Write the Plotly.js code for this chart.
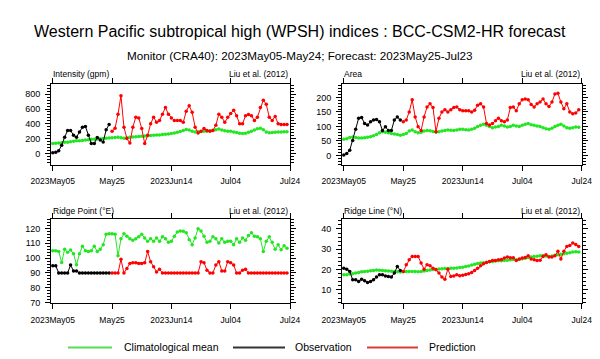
<!DOCTYPE html>
<html>
<head>
<meta charset="utf-8">
<script src="https://cdn.plot.ly/plotly-3.0.1.min.js"></script>
<style>html,body{margin:0;padding:0;background:#fff;}#chart{width:600px;height:359px;}</style>
</head>
<body>
<div id="chart"></div>
<script>
// ---- data ----
var xTickLabels = ["2023May05", "May25", "2023Jun14", "Jul04", "Jul24"];
var xTickDays = [0, 20, 40, 60, 80];

// Intensity (gpm)
var climIntensity = [135,138,142,145,150,152,158,165,170,172,
  175,180,185,190,192,195,198,200,205,208,
  212,215,218,210,205,212,218,222,225,228,
  232,235,240,242,245,248,250,255,258,262,
  268,275,285,295,310,322,315,298,290,292,
  295,298,300,305,312,320,330,318,305,300,
  298,290,282,272,268,272,285,300,318,332,
  340,320,290,278,282,285,288,290,292,292];
var obsIntensity = [10,15,35,110,220,310,310,245,220,290,355,365,245,135,135,215,180,155,320,390];
var predIntensity = [300,340,530,780,355,200,140,355,490,480,
  335,135,245,400,490,420,445,530,620,530,
  480,445,445,445,420,570,645,555,355,275,
  300,335,310,300,310,380,530,490,420,490,
  540,585,510,400,400,510,525,510,445,490,
  620,720,665,490,445,500,400,390,390,390];

// Area
var climArea = [56,58,62,64,62,60,60,61,63,65,
  68,72,78,82,80,78,76,74,72,70,
  72,76,84,88,82,78,80,84,86,85,
  83,80,82,84,86,88,87,86,88,90,
  90,89,88,90,94,100,104,108,104,100,
  96,98,100,104,102,98,100,104,102,100,
  104,108,110,106,104,102,100,96,92,90,
  94,100,104,108,102,96,94,96,98,97];
var obsArea = [2,7,18,52,90,128,131,110,105,116,122,124,116,86,99,86,86,122,133,122];
var predArea = [116,122,150,192,133,99,86,133,167,178,
  165,82,128,150,158,150,158,165,167,158,
  154,154,154,150,156,173,178,167,110,105,
  110,120,128,120,116,122,165,167,154,178,
  192,195,192,176,167,178,184,195,178,169,
  184,212,214,184,161,178,150,144,146,158];

// Ridge Point (°E)
var climRidgePoint = [105,105,104.5,97,106,104,105.5,103,95.5,103,
  108,105,104.5,105,108,104.5,106,109,116,116.3,
  116.3,116,101.5,113,116.3,114.7,113,112,113,114.3,
  116,113.6,111.3,113,111.3,113.6,111.3,114.3,113,110.6,
  111.3,114.7,117.5,118.2,118,117,112.4,109,113.6,119.8,
  118.2,114.7,110.6,111.3,114.3,113,110.2,113,110.6,111.3,
  111.3,109,113,110.6,113.6,112,115.2,117,114.7,114.3,
  113,104.4,111.3,114.3,110.6,106,109,105.6,108.3,106.7];
var obsRidgePoint = [94.8,94.8,90,90,90,90,95.3,91.4,91.4,90,90,90,90,90,90,90,90,90,90,90];
var predRidgePoint = [90,90,90,99.2,90,93,96.4,96.9,96.9,96.4,
  96.4,96.9,104.4,97.6,94.2,90.7,92.5,90,90,90,
  90,90,90,90,90,90,90,90,90,90,
  97.6,96.9,91.9,90,90,95.3,97.6,91.4,91.4,97.6,
  96.9,95.3,90,90,91.9,92.5,90,90,90,90,
  90,90,90,90,90,90,90,90,90,90];

// Ridge Line (°N)
var climRidgeLine = [17.4,17.5,17.8,18.0,18.3,18.6,18.9,19.0,19.2,19.4,
  19.6,19.8,19.7,19.5,19.4,19.3,19.2,19.0,18.9,18.8,
  18.9,19.0,19.0,19.1,19.0,18.9,19.1,19.3,19.5,19.8,
  20.0,20.2,20.3,20.4,20.5,20.5,20.6,20.7,20.8,21.0,
  21.2,21.5,21.8,22.2,22.6,23.0,23.2,23.4,23.6,23.8,
  24.0,24.2,24.3,24.4,24.5,24.6,24.8,25.0,24.8,25.0,
  25.3,25.6,25.9,26.2,26.4,26.6,26.8,26.9,26.7,26.5,
  26.7,27.0,27.3,27.6,27.8,28.0,28.3,28.6,28.8,28.6];
var obsRidgeLine = [20.7,20.2,19.1,15,15,14.1,15.3,14.5,13.6,14.1,15,16.3,17.4,17.4,16.9,16.6,16.3,18.3,21.5,19.6];
var predRidgeLine = [19.1,22.4,24.8,26.5,26.5,26.5,23.2,20.2,22.4,21.9,
  20.7,19.9,18.3,16.3,15.3,20.2,16.6,16.9,17.4,17.0,
  17.2,17.6,17.9,18.6,19.6,20.7,21.9,22.9,23.5,24,
  24.5,24.5,24.8,25.0,25.7,26.2,25.8,25.8,24.5,25.2,
  25.7,26.0,26.8,25.2,24.8,24.5,24.6,26.5,27.3,26.2,
  26.2,26.8,29,25.2,29,31.4,31.8,33.1,32.3,31.4];

var panelTitles = ["Intensity (gpm)", "Area", "Ridge Point (°E)", "Ridge Line (°N)"];
var sourceLabel = "Liu et al. (2012)";
var seriesNames = ["Climatological mean", "Observation", "Prediction"];

// ---- styling ----
var FONT = "Liberation Sans, Arial, Helvetica, sans-serif";
var cGreen = "#22e622", cBlack = "#000000", cRed = "#ff0000";
var W = 600, H = 359;
function px(x) { return x / W; }
function py(y) { return 1 - y / H; }

var panels = [
  {clim: climIntensity, obs: obsIntensity, pred: predIntensity, range: [-150, 945], dtick: 200, minor: 40, tick0: 0},
  {clim: climArea, obs: obsArea, pred: predArea, range: [-31, 248], dtick: 50, minor: 10, tick0: 0},
  {clim: climRidgePoint, obs: obsRidgePoint, pred: predRidgePoint, range: [69.6, 126.3], dtick: 10, minor: 2, tick0: 70},
  {clim: climRidgeLine, obs: obsRidgeLine, pred: predRidgeLine, range: [3.4, 44.9], dtick: 10, minor: 2, tick0: 10}
];
var xDomains = [[px(51), px(290)], [px(342), px(581.7)]];
var yDomains = [[py(164.5), py(83.5)], [py(303.3), py(219)]];

var data = [];
var layout = {
  width: W, height: H,
  margin: {l: 0, r: 0, t: 0, b: 0},
  paper_bgcolor: "#fff", plot_bgcolor: "#fff",
  showlegend: false,
  font: {family: FONT, color: "#000"},
  annotations: [], shapes: []
};

panels.forEach(function (p, k) {
  var col = k % 2, row = Math.floor(k / 2);
  var sfx = k === 0 ? "" : String(k + 1);
  var xa = "x" + sfx, ya = "y" + sfx;
  var xc = p.clim.map(function (_, i) { return i; });
  var xo = p.obs.map(function (_, i) { return i; });
  var xp = p.pred.map(function (_, i) { return i + p.obs.length; });
  var common = {type: "scatter", mode: "lines+markers", xaxis: xa, yaxis: ya, hoverinfo: "skip"};
  data.push(Object.assign({}, common, {x: xc, y: p.clim, name: seriesNames[0], line: {color: cGreen, width: 1}, marker: {color: cGreen, size: 3.5}}));
  data.push(Object.assign({}, common, {x: xo, y: p.obs, name: seriesNames[1], line: {color: cBlack, width: 1}, marker: {color: cBlack, size: 3.5}}));
  data.push(Object.assign({}, common, {x: xp, y: p.pred, name: seriesNames[2], line: {color: cRed, width: 1}, marker: {color: cRed, size: 3.5}}));

  layout["xaxis" + sfx] = {
    domain: xDomains[col], anchor: ya, range: [-0.6, 80],
    tickmode: "array", tickvals: xTickDays, ticktext: xTickLabels,
    ticks: "outside", ticklen: 5, tickwidth: 1, tickcolor: "#000",
    showline: true, linecolor: "#000", linewidth: 1, mirror: "allticks",
    showgrid: false, zeroline: false, ticklabelstandoff: 3,
    tickfont: {family: FONT, size: 8.5, color: "#000"}
  };
  layout["yaxis" + sfx] = {
    domain: yDomains[row], anchor: xa, range: p.range,
    tickmode: "linear", tick0: p.tick0, dtick: p.dtick,
    ticks: "outside", ticklen: 5, tickwidth: 1, tickcolor: "#000",
    minor: {ticks: "outside", ticklen: 3, tickwidth: 1, tickcolor: "#000", dtick: p.minor, tick0: p.tick0, showgrid: false},
    showline: true, linecolor: "#000", linewidth: 1, mirror: "allticks",
    showgrid: false, zeroline: false, ticklabelstandoff: 3,
    tickfont: {family: FONT, size: 9, color: "#000"}
  };
  var titleY = row === 0 ? py(74.5) : py(210.5);
  layout.annotations.push({xref: "paper", yref: "paper", x: xDomains[col][0], y: titleY, xanchor: "left", yanchor: "middle",
    text: panelTitles[k], showarrow: false, font: {family: FONT, size: 8.5, color: "#000"}});
  layout.annotations.push({xref: "paper", yref: "paper", x: xDomains[col][1], y: titleY, xanchor: "right", yanchor: "middle",
    text: sourceLabel, showarrow: false, font: {family: FONT, size: 8.5, color: "#000"}});
});

layout.annotations.push({xref: "paper", yref: "paper", x: 0.5, y: py(32), xanchor: "center", yanchor: "middle",
  text: "Western Pacific subtropical high (WPSH) indices : BCC-CSM2-HR forecast", showarrow: false,
  font: {family: FONT, size: 16, color: "#000"}});
layout.annotations.push({xref: "paper", yref: "paper", x: 0.5, y: py(55.5), xanchor: "center", yanchor: "middle",
  text: "Monitor (CRA40): 2023May05-May24; Forecast: 2023May25-Jul23", showarrow: false,
  font: {family: FONT, size: 11.7, color: "#000"}});

// legend (manual)
var legendItems = [
  {name: seriesNames[0], color: "#55dd55", x0: 68, x1: 112, tx: 122},
  {name: seriesNames[1], color: "#333333", x0: 233, x1: 285, tx: 293},
  {name: seriesNames[2], color: "#dd3c3c", x0: 367, x1: 418, tx: 427}
];
legendItems.forEach(function (it) {
  layout.shapes.push({type: "line", xref: "paper", yref: "paper", x0: px(it.x0), x1: px(it.x1), y0: py(347.5), y1: py(347.5),
    line: {color: it.color, width: 2}});
  layout.annotations.push({xref: "paper", yref: "paper", x: px(it.tx), y: py(347), xanchor: "left", yanchor: "middle",
    text: it.name, showarrow: false, font: {family: FONT, size: 10.5, color: "#000"}});
});

Plotly.newPlot("chart", data, layout, {staticPlot: true, displayModeBar: false});
</script>
</body>
</html>
